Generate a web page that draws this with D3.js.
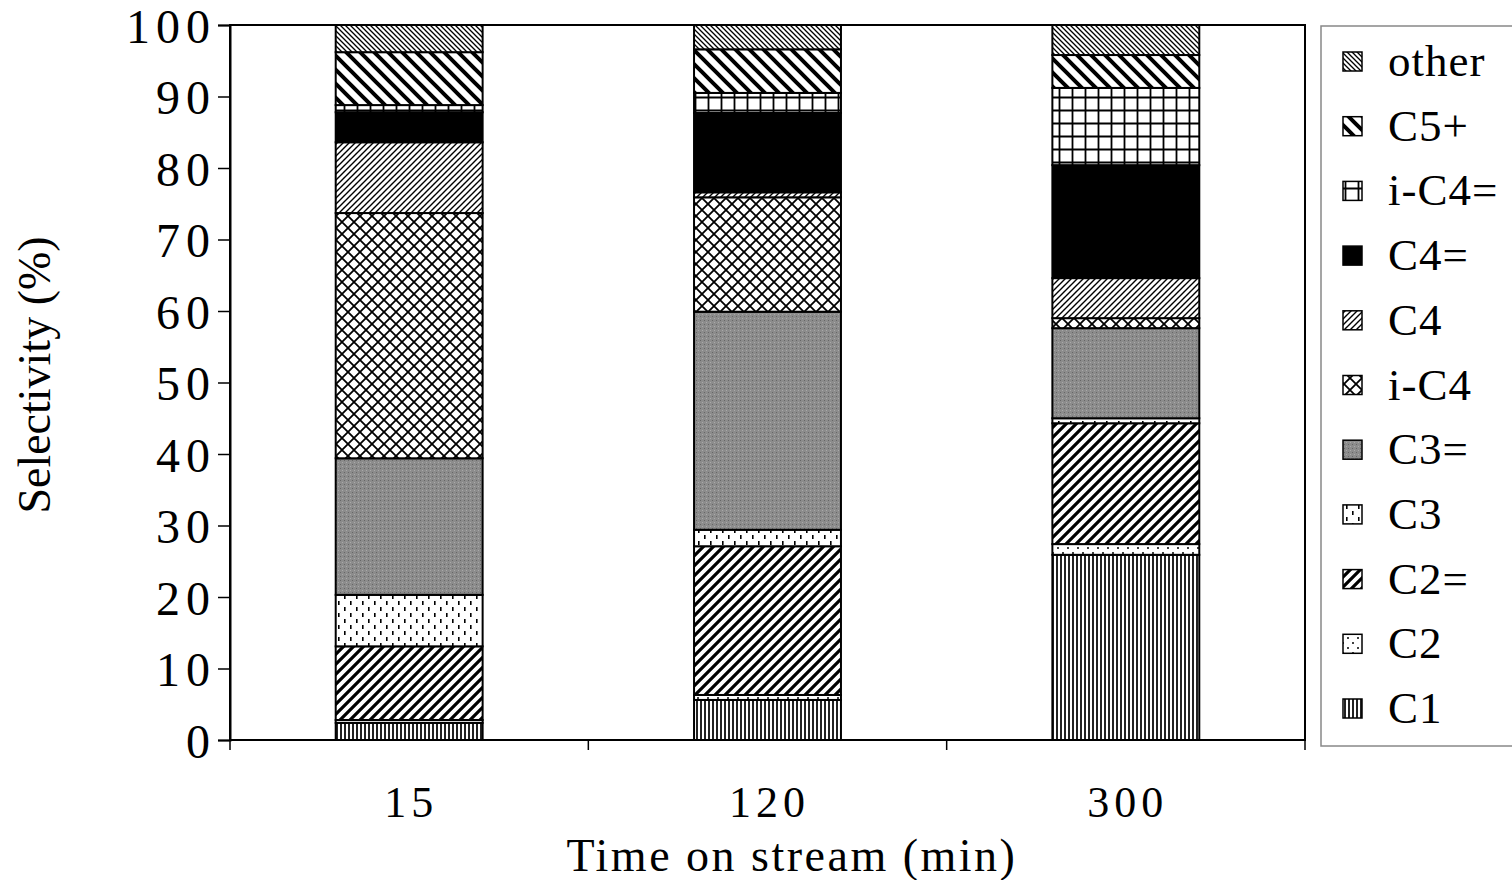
<!DOCTYPE html><html><head><meta charset="utf-8"><script src="https://d3js.org/d3.v7.min.js"></script>
<style>body{margin:0;background:#fff}text{font-family:"Liberation Serif","Times New Roman",serif}</style></head><body>
<svg id="c" width="1512" height="880"></svg>
<script>
const categories=["15","120","300"];
const seriesNames=["C1","C2","C2=","C3","C3=","i-C4","C4","C4=","i-C4=","C5+","other"];
const C1=[2.4,5.6,25.9];
const C2=[0.4,0.7,1.5];
const C2e=[10.3,20.8,16.9];
const C3=[7.2,2.3,0.7];
const C3e=[19.1,30.5,12.6];
const iC4=[34.3,16.0,1.4];
const C4=[9.9,0.7,5.6];
const C4e=[4.2,11.1,15.8];
const iC4e=[1.0,2.8,10.8];
const C5p=[7.4,6.1,4.6];
const other=[3.8,3.4,4.2];
const yTicks=[0,10,20,30,40,50,60,70,80,90,100];
const seriesVals=[C1,C2,C2e,C3,C3e,iC4,C4,C4e,iC4e,C5p,other];
const rows=categories.map((c,i)=>{const o={cat:c};seriesNames.forEach((s,j)=>o[s]=seriesVals[j][i]);return o;});

const svg=d3.select("#c");
const defs=svg.append("defs");
function pat(id,size,build){const p=defs.append("pattern").attr("id",id).attr("patternUnits","userSpaceOnUse").attr("width",size).attr("height",size);p.append("rect").attr("width",size).attr("height",size).attr("fill","#fff");build(p);}
pat("pC1",4,p=>p.append("rect").attr("width",2).attr("height",4).attr("fill","#222"));
pat("pC2",10,p=>{p.append("circle").attr("cx",3).attr("cy",3).attr("r",1).attr("fill","#000");p.append("circle").attr("cx",8).attr("cy",8).attr("r",1).attr("fill","#000");});
pat("pC2e",10,p=>p.append("path").attr("d","M-2,12 L12,-2 M-2,2 L2,-2 M8,12 L12,8").attr("stroke","#000").attr("stroke-width",3.2));
pat("pC3",12,p=>{p.append("rect").attr("x",2).attr("y",1).attr("width",1.6).attr("height",4).attr("fill","#000");p.append("rect").attr("x",8).attr("y",7).attr("width",1.6).attr("height",4).attr("fill","#000");});
pat("pC3e",4,p=>{p.select("rect").attr("fill","#8c8c8c");p.append("rect").attr("width",1).attr("height",1).attr("fill","#666");p.append("rect").attr("x",2).attr("y",2).attr("width",1).attr("height",1).attr("fill","#aaa");});
pat("piC4",12,p=>p.append("path").attr("d","M0,0 L12,12 M12,0 L0,12").attr("stroke","#000").attr("stroke-width",1.8));
pat("pC4",6,p=>p.append("path").attr("d","M-1,7 L7,-1 M-1,1 L1,-1 M5,7 L7,5").attr("stroke","#000").attr("stroke-width",1.4));
pat("pC4e",4,p=>p.select("rect").attr("fill","#000"));
pat("piC4e",13,p=>p.append("path").attr("d","M0,6.5 H13 M6.5,0 V13").attr("stroke","#000").attr("stroke-width",1.8));
pat("pC5p",14,p=>p.append("path").attr("d","M-2,-2 L16,16 M-2,12 L2,16 M12,-2 L16,2").attr("stroke","#000").attr("stroke-width",4));
pat("pother",5,p=>p.append("path").attr("d","M-1,-1 L6,6 M-1,4 L1,6 M4,-1 L6,1").attr("stroke","#000").attr("stroke-width",1.3));
const pid=["pC1","pC2","pC2e","pC3","pC3e","piC4","pC4","pC4e","piC4e","pC5p","pother"];

const L=230,R=1305,T=25,B=740;
const x=d3.scaleBand().domain(categories).range([L,R]).paddingInner(0.59).paddingOuter(0.295);
const y=d3.scaleLinear().domain([0,100]).range([B,T]);
svg.append("rect").attr("x",L).attr("y",T).attr("width",R-L).attr("height",B-T).attr("fill","none").attr("stroke","#000").attr("stroke-width",2);
const stack=d3.stack().keys(seriesNames)(rows);
stack.forEach((s,i)=>{
 svg.append("g").selectAll("rect").data(s).join("rect")
  .attr("x",d=>x(d.data.cat)).attr("width",x.bandwidth())
  .attr("y",d=>y(d[1])).attr("height",d=>y(d[0])-y(d[1]))
  .attr("fill",`url(#${pid[i]})`).attr("stroke","#000").attr("stroke-width",2);
});
const ya=svg.append("g").attr("transform",`translate(${L},0)`).call(d3.axisLeft(y).tickValues(yTicks).tickSize(12).tickPadding(8));
ya.select(".domain").attr("stroke-width",2);
ya.selectAll("text").attr("font-size",48).attr("font-family","Liberation Serif").attr("letter-spacing",6).attr("dx",6).attr("dy","0.36em");
ya.selectAll("line").attr("stroke-width",1.5);
const xa=svg.append("g").attr("transform",`translate(0,${B})`);
xa.append("line").attr("x1",L).attr("x2",R).attr("stroke","#000").attr("stroke-width",2);
const bounds=[L,...categories.slice(1).map(c=>x(c)-x.step()*x.paddingInner()/2),R];
xa.selectAll(".t").data(bounds).join("line").attr("x1",d=>d).attr("x2",d=>d).attr("y1",0).attr("y2",10).attr("stroke","#000").attr("stroke-width",1.5);
xa.selectAll("text").data(categories).join("text").attr("x",d=>x(d)+x.bandwidth()/2+2).attr("y",77).attr("text-anchor","middle").attr("font-size",44).attr("letter-spacing",5).text(d=>d);
svg.append("text").attr("x",792).attr("y",871).attr("text-anchor","middle").attr("font-size",46).attr("letter-spacing",2.5).text("Time on stream (min)");
svg.append("text").attr("transform","translate(50,375) rotate(-90)").attr("text-anchor","middle").attr("font-size",46).text("Selectivity (%)");
svg.append("rect").attr("x",1321).attr("y",26).attr("width",195).attr("height",720).attr("fill","#fff").attr("stroke","#888").attr("stroke-width",1.5);
const lg=svg.append("g");
const order=seriesNames.map((s,i)=>i).reverse();
order.forEach((i,k)=>{
 const cy=62+k*64.7;
 lg.append("rect").attr("x",1343).attr("y",cy-10).attr("width",19).attr("height",19).attr("fill",`url(#${pid[i]})`).attr("stroke","#000").attr("stroke-width",1.5);
 lg.append("text").attr("x",1388).attr("y",cy+14).attr("font-size",45).attr("letter-spacing",1).text(seriesNames[i]);
});
</script></body></html>
